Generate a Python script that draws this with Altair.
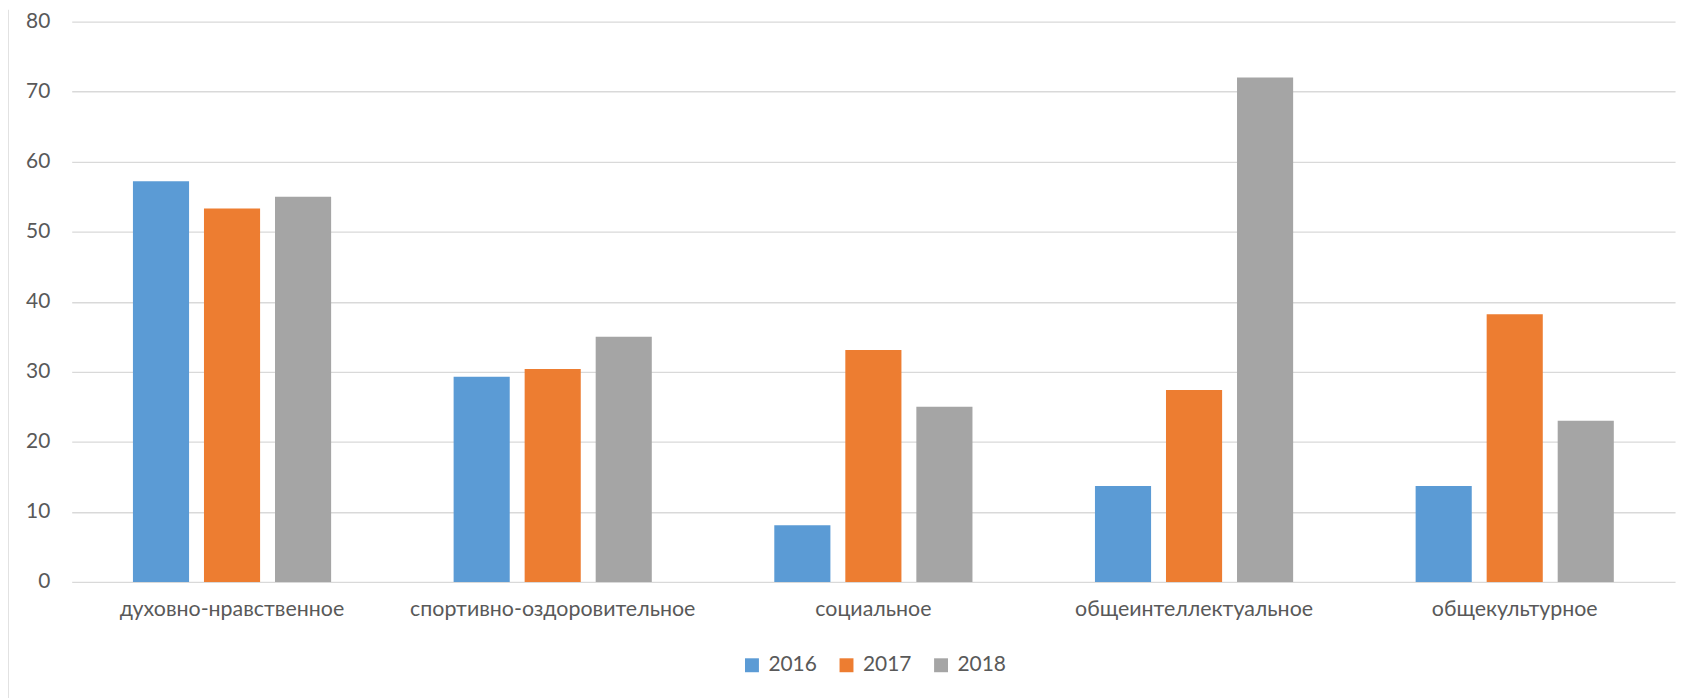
import altair as alt
import pandas as pd

categories = ["духовно-нравственное", "спортивно-оздоровительное", "социальное",
              "общеинтеллектуальное", "общекультурное"]
years = ["2016", "2017", "2018"]
values_2016 = [57.2, 29.3, 8.1, 13.7, 13.7]
values_2017 = [53.3, 30.4, 33.1, 27.4, 38.2]
values_2018 = [55.0, 35.0, 25.0, 72.0, 23.0]
colors = ["#5B9BD5", "#ED7D31", "#A5A5A5"]
y_ticks = [0, 10, 20, 30, 40, 50, 60, 70, 80]

rows = []
for yr, vals in zip(years, [values_2016, values_2017, values_2018]):
    for c, v in zip(categories, vals):
        rows.append({"category": c, "year": yr, "value": v})
df = pd.DataFrame(rows)

FONT = "Lato"
TXT = "#595959"

bars = alt.Chart(df).mark_bar().encode(
    x=alt.X("category:N", sort=categories, title=None,
            scale=alt.Scale(paddingInner=0.382, paddingOuter=0.191),
            axis=alt.Axis(labelAngle=0, labelFontSize=21.5, labelFont=FONT, labelColor=TXT,
                          labelPadding=17, labelLimit=0, ticks=False, domain=False, grid=False)),
    xOffset=alt.XOffset("year:N", sort=years,
                        scale=alt.Scale(paddingInner=0.21, paddingOuter=0)),
    y=alt.Y("value:Q", title=None,
            scale=alt.Scale(domain=[0, 80], nice=False),
            axis=alt.Axis(values=y_ticks, labelFontSize=21, labelFont=FONT, labelColor=TXT,
                          labelPadding=22, ticks=False, domain=False,
                          gridColor="#D9D9D9", gridWidth=1.4)),
    color=alt.Color("year:N", sort=years,
                    scale=alt.Scale(domain=years, range=colors),
                    legend=alt.Legend(title=None, orient="none", direction="horizontal",
                                      legendX=673, legendY=636,
                                      symbolType="square", symbolSize=196,
                                      symbolStrokeWidth=0, labelOffset=6,
                                      labelFontSize=21, labelFont=FONT, labelColor=TXT,
                                      columnPadding=19)),
)

border = alt.Chart(pd.DataFrame({"a": [0]})).mark_rule(color="#D9D9D9", strokeWidth=1.5).encode(
    x=alt.value(-64), y=alt.value(-12), y2=alt.value(690)
)

chart = alt.layer(bars, border).properties(
    width=1611, height=563,
    autosize=alt.AutoSizeParams(type="none"),
    padding={"left": 64, "top": 12, "right": 12, "bottom": 115},
).configure_view(stroke=None)

chart.save("out.html", embed_options={"renderer": "svg", "actions": False})
